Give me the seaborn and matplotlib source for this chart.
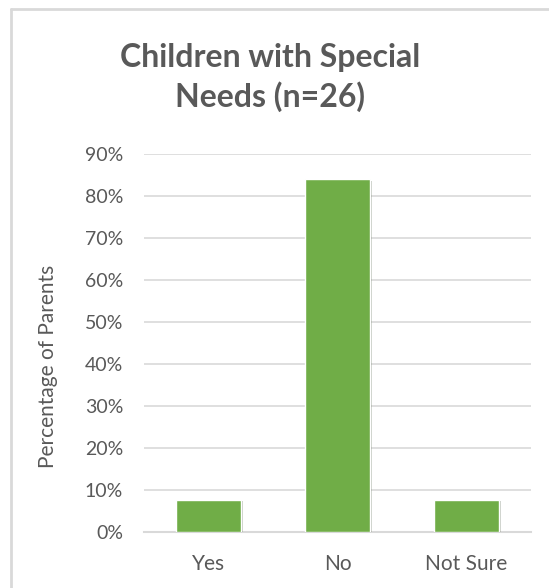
import matplotlib
matplotlib.use('Agg')
import matplotlib.pyplot as plt
import matplotlib.patheffects as pe
from matplotlib.ticker import PercentFormatter
import seaborn as sns
import pandas as pd

# Data
categories = ['Yes', 'No', 'Not Sure']
shares = [0.077, 0.84, 0.077]
y_ticks = [0.0, 0.1, 0.2, 0.3, 0.4, 0.5, 0.6, 0.7, 0.8, 0.9]

df = pd.DataFrame({'answer': categories, 'share': shares})

sns.set_style('white')
plt.rcParams['font.family'] = ['Lato', 'DejaVu Sans']

text_color = '#595959'
grid_color = '#d9d9d9'

fig = plt.figure(figsize=(5.49, 5.88), dpi=100)
ax = fig.add_axes([144 / 549, 1 - 532 / 588, 387 / 549, 378 / 588])

sns.barplot(data=df, x='answer', y='share', color='#70AD47', width=0.51,
            saturation=1, ax=ax, zorder=3)
for bar in ax.patches:
    bar.set_path_effects([pe.SimplePatchShadow(offset=(1.5, -1), alpha=0.25), pe.Normal()])

ax.set_ylim(0, 0.9)
ax.set_xlim(-0.5, 2.5)
ax.set_yticks(y_ticks)
ax.yaxis.set_major_formatter(PercentFormatter(1.0, decimals=0))
ax.grid(axis='y', color=grid_color, linewidth=1.2, zorder=0)
ax.set_axisbelow(True)
for side in ['top', 'right', 'left']:
    ax.spines[side].set_visible(False)
ax.spines['bottom'].set_color(grid_color)
ax.spines['bottom'].set_linewidth(1.5)
ax.tick_params(axis='both', length=0, labelcolor=text_color)
ax.tick_params(axis='y', pad=15, labelsize=14)
ax.tick_params(axis='x', pad=16, labelsize=15)
ax.set_xlabel('')
ax.set_ylabel('Percentage of Parents', fontsize=15, color=text_color)
ax.yaxis.set_label_coords(-0.222, 0.437)

fig.text(0.492, 0.868, 'Children with Special\nNeeds (n=26)', ha='center', va='center',
         fontsize=23, fontweight='bold', color=text_color, linespacing=1.38)

# chart frame (top and left edges visible)
fig.add_artist(plt.Line2D([11 / 549, 11 / 549], [0, 1 - 9 / 588], color='#d9d9d9', linewidth=2))
fig.add_artist(plt.Line2D([11 / 549, 1], [1 - 9 / 588, 1 - 9 / 588], color='#d9d9d9', linewidth=2))

fig.savefig('out.png', dpi=100, facecolor='white')
plt.close(fig)
